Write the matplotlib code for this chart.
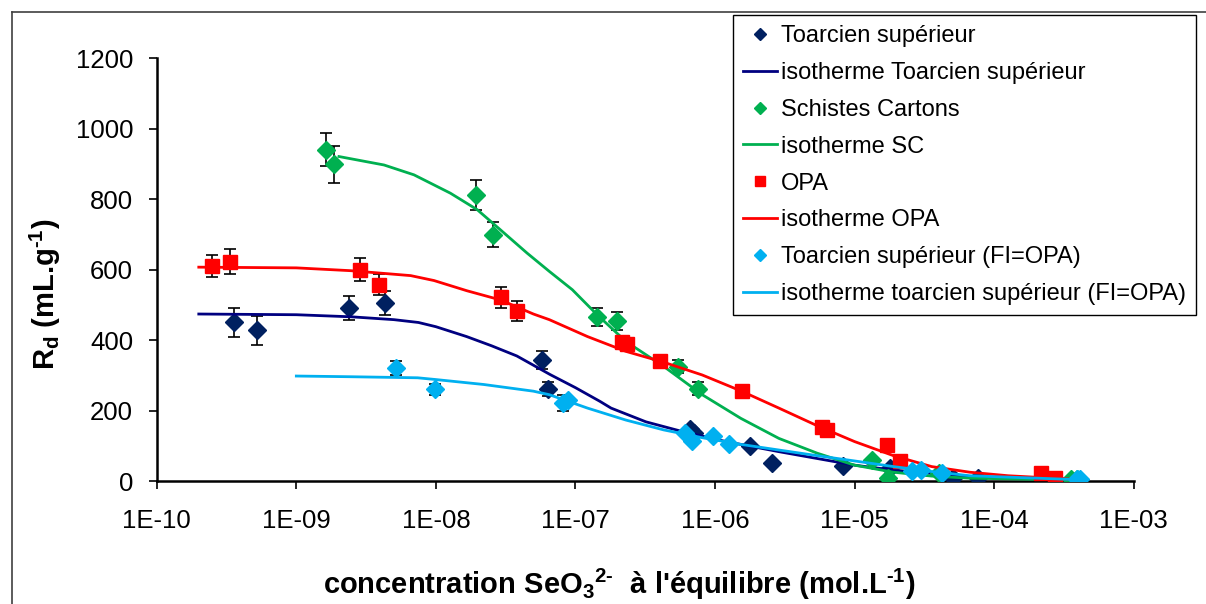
import numpy as np
import matplotlib.pyplot as plt
from matplotlib.lines import Line2D

plt.rcParams['font.family'] = ['Liberation Sans', 'DejaVu Sans']
plt.rcParams['mathtext.fontset'] = 'custom'
plt.rcParams['mathtext.rm'] = 'Liberation Sans:bold'
plt.rcParams['mathtext.it'] = 'Liberation Sans:bold'
plt.rcParams['mathtext.bf'] = 'Liberation Sans:bold'

# Toarcien superieur (points)
ts_c = [3.6e-10, 5.2e-10, 2.38e-9, 4.3e-9, 5.8e-8, 6.4e-8, 6.6e-7, 7.1e-7,
        1.77e-6, 2.58e-6, 8.2e-6, 1.79e-5, 5.1e-5, 7.7e-5, 3.9e-4]
ts_rd = [450, 428, 491, 505, 343, 260, 147, 136, 98, 50, 43, 36, 8, 9, 4]
ts_err = [40, 41, 35, 35, 26, 20, 0, 0, 0, 0, 0, 0, 0, 0, 0]

# Schistes Cartons (points)
sc_c = [1.62e-9, 1.87e-9, 1.95e-8, 2.57e-8, 1.43e-7, 1.99e-7, 5.4e-7, 7.5e-7,
        1.33e-5, 1.73e-5, 4.05e-5, 3.57e-4, 3.9e-4]
sc_rd = [940, 899, 812, 699, 466, 455, 325, 262, 60, 10, 22, 6, 6]
sc_err = [47, 52, 43, 36, 25, 25, 18, 18, 0, 0, 0, 0, 0]

# OPA (points)
opa_c = [2.5e-10, 3.35e-10, 2.86e-9, 3.88e-9, 2.95e-8, 3.82e-8, 2.15e-7, 2.35e-7,
         4.05e-7, 1.55e-6, 5.85e-6, 6.4e-6, 1.71e-5, 2.13e-5, 2.17e-4, 2.73e-4]
opa_rd = [610, 623, 600, 557, 521, 483, 395, 390, 342, 256, 152, 145, 102, 57, 24, 9]
opa_err = [31, 35, 33, 30, 30, 28, 15, 15, 12, 0, 0, 0, 0, 0, 0, 0]

# Toarcien superieur (FI=OPA) (points)
tf_c = [5.2e-9, 9.8e-9, 8.2e-8, 8.8e-8, 6.1e-7, 6.9e-7, 9.6e-7, 1.26e-6,
        2.58e-5, 3.0e-5, 4.2e-5, 3.9e-4, 4.1e-4]
tf_rd = [321, 260, 222, 231, 137, 115, 128, 104, 29, 31, 24, 5, 6]
tf_err = [19, 16, 22, 0, 0, 0, 0, 0, 0, 0, 0, 0, 0]

# isothermes
iso_ts_c = [2e-10, 1e-9, 2.5e-9, 5e-9, 7.5e-9, 1e-8, 1.66e-8, 2.5e-8, 3.8e-8, 6.6e-8,
            1e-7, 1.5e-7, 1.8e-7, 3.2e-7, 5.9e-7, 1.2e-6, 2.9e-6, 1e-5, 1.9e-5,
            6.7e-5, 3.7e-4]
iso_ts_rd = [474, 472, 466, 458, 450, 438, 410, 384, 355, 302, 265, 226, 207, 168,
             140, 112, 83, 45, 31, 12, 5]
iso_sc_c = [2.02e-9, 4.25e-9, 6.97e-9, 1.27e-8, 1.98e-8, 2.9e-8, 4.5e-8, 6.5e-8,
            9.5e-8, 1.43e-7, 2.3e-7, 4.3e-7, 8.1e-7, 1.53e-6, 2.87e-6, 5.4e-6,
            1e-5, 1.9e-5, 3.57e-5, 6.7e-5, 3.7e-4]
iso_sc_rd = [921, 897, 869, 817, 770, 713, 647, 595, 543, 472, 396, 325, 245, 178,
             121, 79, 45, 25, 14, 8, 3]
iso_opa_c = [2e-10, 1e-9, 2.45e-9, 6.6e-9, 9.7e-9, 1.67e-8, 2.9e-8, 5e-8, 6.5e-8,
             1.22e-7, 2.3e-7, 4.3e-7, 8.1e-7, 1.53e-6, 2.87e-6, 5.4e-6, 1e-5,
             1.9e-5, 3.57e-5, 6.7e-5, 1.26e-4, 3.7e-4]
iso_opa_rd = [607, 605, 597, 583, 569, 540, 514, 474, 458, 410, 368, 337, 301, 256,
              207, 157, 112, 72, 41, 25, 15, 5]
iso_tf_c = [1e-9, 2.45e-9, 7.4e-9, 1e-8, 2.2e-8, 5e-8, 6.5e-8, 1.22e-7, 2.3e-7,
            4.3e-7, 8.1e-7, 1.53e-6, 2.87e-6, 5.4e-6, 1e-5, 1.9e-5, 3.57e-5, 6.7e-5, 3.9e-4]
iso_tf_rd = [298, 296, 293, 288, 274, 255, 245, 207, 173, 145, 123, 104, 88, 72, 57,
             41, 27, 15, 4]

xticks = [1e-10, 1e-9, 1e-8, 1e-7, 1e-6, 1e-5, 1e-4, 1e-3]
xtick_labels = ['1E-10', '1E-09', '1E-08', '1E-07', '1E-06', '1E-05', '1E-04', '1E-03']
yticks = [0, 200, 400, 600, 800, 1000, 1200]

fig = plt.figure(figsize=(12.06, 6.04), dpi=100)
ax = fig.add_axes([0.130, 0.2036, 0.810, 0.700])


def errbars(c, rd, err):
    c, rd, err = np.array(c), np.array(rd), np.array(err)
    m = err > 0
    ax.errorbar(c[m], rd[m], yerr=err[m], fmt='none', ecolor='black',
                elinewidth=1.2, capsize=4, capthick=1.2, zorder=2)


errbars(ts_c, ts_rd, ts_err)
errbars(sc_c, sc_rd, sc_err)
errbars(opa_c, opa_rd, opa_err)
errbars(tf_c, tf_rd, tf_err)

ax.plot(ts_c, ts_rd, 'D', color='#002060', ms=9, lw=0, label='Toarcien supérieur', zorder=3)
ax.plot(iso_ts_c, iso_ts_rd, '-', color='#000080', lw=2, label='isotherme Toarcien supérieur', zorder=3)
ax.plot(sc_c, sc_rd, 'D', color='#00B050', ms=9, lw=0, label='Schistes Cartons', zorder=3)
ax.plot(iso_sc_c, iso_sc_rd, '-', color='#00B050', lw=2, label='isotherme SC', zorder=3)
ax.plot(opa_c, opa_rd, 's', color='#FF0000', ms=10.5, lw=0, label='OPA', zorder=3)
ax.plot(iso_opa_c, iso_opa_rd, '-', color='#FF0000', lw=2, label='isotherme OPA', zorder=3)
ax.plot(tf_c, tf_rd, 'D', color='#00B0F0', ms=9, lw=0, label='Toarcien supérieur (FI=OPA)', zorder=3)
ax.plot(iso_tf_c, iso_tf_rd, '-', color='#00B0F0', lw=2, label='isotherme toarcien supérieur (FI=OPA)', zorder=3)

ax.set_xscale('log')
ax.set_xlim(1e-10, 1e-3)
ax.set_ylim(0, 1200)
ax.set_xticks(xticks)
ax.set_xticklabels(xtick_labels)
ax.xaxis.set_minor_locator(plt.NullLocator())
ax.set_yticks(yticks)
ax.tick_params(axis='both', direction='out', length=6, width=1.2, labelsize=18.5)
ax.tick_params(axis='x', pad=14)
ax.tick_params(axis='y', pad=11)
for s in ['top', 'right']:
    ax.spines[s].set_visible(False)
for s in ['left', 'bottom']:
    ax.spines[s].set_linewidth(1.8)

fig.text(0.038, 0.512, 'R$_\\mathrm{d}$ (mL.g$^\\mathrm{\u20101}$)', fontsize=21, fontweight='bold',
         rotation=90, ha='center', va='center')
fig.text(0.513, 0.033, "concentration SeO$_\\mathrm{3}$$^\\mathrm{2\u2010}$  à l'équilibre (mol.L$^\\mathrm{\u20101}$)",
         fontsize=21, fontweight='bold', ha='center', va='center')

leg = ax.legend(loc='upper left', bbox_to_anchor=(0.608, 0.975), bbox_transform=fig.transFigure,
                fontsize=17, frameon=True, fancybox=False, framealpha=1, edgecolor='black',
                borderaxespad=0, borderpad=0.42, handlelength=1.45, handletextpad=0.16,
                labelspacing=0.63, markerscale=0.7)
leg.get_frame().set_linewidth(1.0)

# outer frame of the figure
fig.add_artist(Line2D([0.0098, 1.0], [0.980, 0.980], color='#404040', lw=1.2, transform=fig.transFigure))
fig.add_artist(Line2D([0.0098, 0.0098], [0.0, 0.980], color='#404040', lw=1.2, transform=fig.transFigure))

fig.savefig('out.png', dpi=100)
